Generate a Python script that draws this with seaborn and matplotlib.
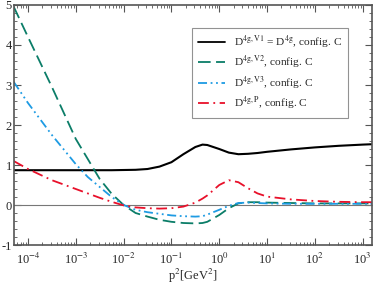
import numpy as np
import pandas as pd
import matplotlib
matplotlib.use("Agg")
import matplotlib.pyplot as plt
import seaborn as sns

# === DATA (log10 of p^2 in GeV^2) ===
log_p2 = [-4.3, -4.0, -3.5, -3.0, -2.75, -2.5, -2.25, -2.0, -1.75, -1.5, -1.25,
          -1.0, -0.75, -0.5, -0.35, -0.25, 0.0, 0.2, 0.4, 0.6, 0.8, 1.0,
          1.5, 2.0, 2.5, 3.0, 3.2]

d_v1 = [0.87, 0.87, 0.87, 0.87, 0.87, 0.87, 0.87, 0.875, 0.88, 0.9, 0.96,
        1.07, 1.27, 1.45, 1.51, 1.5, 1.4, 1.31, 1.27, 1.28, 1.3, 1.33,
        1.39, 1.44, 1.48, 1.51, 1.52]

d_v2 = [4.96, 4.2, 2.95, 1.65, 1.15, 0.65, 0.28, 0.0, -0.2, -0.29, -0.37,
        -0.42, -0.45, -0.46, -0.45, -0.42, -0.25, -0.08, 0.04, 0.07, 0.07, 0.06,
        0.05, 0.04, 0.04, 0.04, 0.04]

d_v3 = [3.08, 2.55, 1.75, 1.02, 0.7, 0.45, 0.2, 0.0, -0.12, -0.18, -0.22,
        -0.26, -0.28, -0.29, -0.28, -0.24, -0.12, -0.02, 0.05, 0.06, 0.05, 0.04,
        0.03, 0.03, 0.03, 0.03, 0.03]

d_p = [1.1, 0.9, 0.62, 0.4, 0.29, 0.18, 0.08, -0.01, -0.06, -0.08, -0.09,
       -0.08, -0.04, 0.06, 0.16, 0.24, 0.5, 0.62, 0.57, 0.42, 0.29, 0.21,
       0.14, 0.1, 0.08, 0.07, 0.07]

x_ticks = [1e-4, 1e-3, 1e-2, 1e-1, 1e0, 1e1, 1e2, 1e3]
x_ticklabels = [r"10$^{-4}$", r"10$^{-3}$", r"10$^{-2}$", r"10$^{-1}$",
                r"10$^{0}$", r"10$^{1}$", r"10$^{2}$", r"10$^{3}$"]

labels = [r"D$^{\rm 4g,V1}$ = D$^{\rm 4g}$, config. C",
          r"D$^{\rm 4g,V2}$, config. C",
          r"D$^{\rm 4g,V3}$, config. C",
          r"D$^{\rm 4g,P}$, config. C"]
colors = ["#000000", "#0b7d68", "#1e9be3", "#e8102a"]
dash_styles = ["", (7, 3), (5, 2, 1, 2, 1, 2), (6, 2.5, 1, 2.5)]

# === STYLE ===
sns.set_theme(style="ticks")
plt.rcParams["font.family"] = ["Liberation Serif", "DejaVu Serif"]
plt.rcParams["mathtext.fontset"] = "stix"
plt.rcParams["font.size"] = 9
plt.rcParams["axes.unicode_minus"] = False

frames = []
for lab, ys in zip(labels, [d_v1, d_v2, d_v3, d_p]):
    frames.append(pd.DataFrame({"p2": 10.0 ** np.array(log_p2), "D": ys, "series": lab}))
df = pd.concat(frames, ignore_index=True)

fig = plt.figure(figsize=(3.74, 2.84), dpi=100)
ax = fig.add_axes([0.0374, 0.1373, 0.9573, 0.8451])

ax.axhline(0, color="#777777", lw=0.8, zorder=1)

sns.lineplot(data=df, x="p2", y="D", hue="series", style="series",
             palette=dict(zip(labels, colors)),
             dashes=dict(zip(labels, dash_styles)),
             hue_order=labels, style_order=labels,
             lw=1.3, sort=True, ax=ax)
for line in ax.get_lines()[1:5]:
    if line.get_color() in ("#000000", "k"):
        line.set_linewidth(1.5)

ax.set_xscale("log")
ax.set_xlim(10 ** -4.293, 10 ** 3.195)
ax.set_ylim(-1, 5)
ax.set_yticks(range(-1, 6))
ax.yaxis.set_minor_locator(matplotlib.ticker.MultipleLocator(0.2))
ax.set_xticks(x_ticks)
ax.set_xticklabels(x_ticklabels)
ax.xaxis.set_minor_locator(matplotlib.ticker.LogLocator(base=10, subs=np.arange(2, 10), numticks=12))
ax.xaxis.set_minor_formatter(matplotlib.ticker.NullFormatter())

ax.tick_params(which="both", direction="in", top=True, right=True,
               color="#555555", labelsize=9)
ax.tick_params(which="major", length=5, width=0.8)
ax.tick_params(which="minor", length=2.5, width=0.6)
ax.tick_params(axis="y", pad=1.5)
ax.tick_params(axis="x", pad=5)
for sp in ax.spines.values():
    sp.set_color("#555555")
    sp.set_linewidth(1.2)

ax.set_xlabel(r"p$^2$[GeV$^2$]", fontsize=9, labelpad=0)
ax.set_ylabel("")

leg = ax.legend(loc="upper left", bbox_to_anchor=(0.497, 0.904), fontsize=8.2,
                frameon=True, fancybox=False, edgecolor="#777777",
                borderaxespad=0, handlelength=2.4, borderpad=0.5,
                labelspacing=0.32, handletextpad=0.8)
leg.get_frame().set_linewidth(0.8)

fig.savefig("out.png", dpi=100)
